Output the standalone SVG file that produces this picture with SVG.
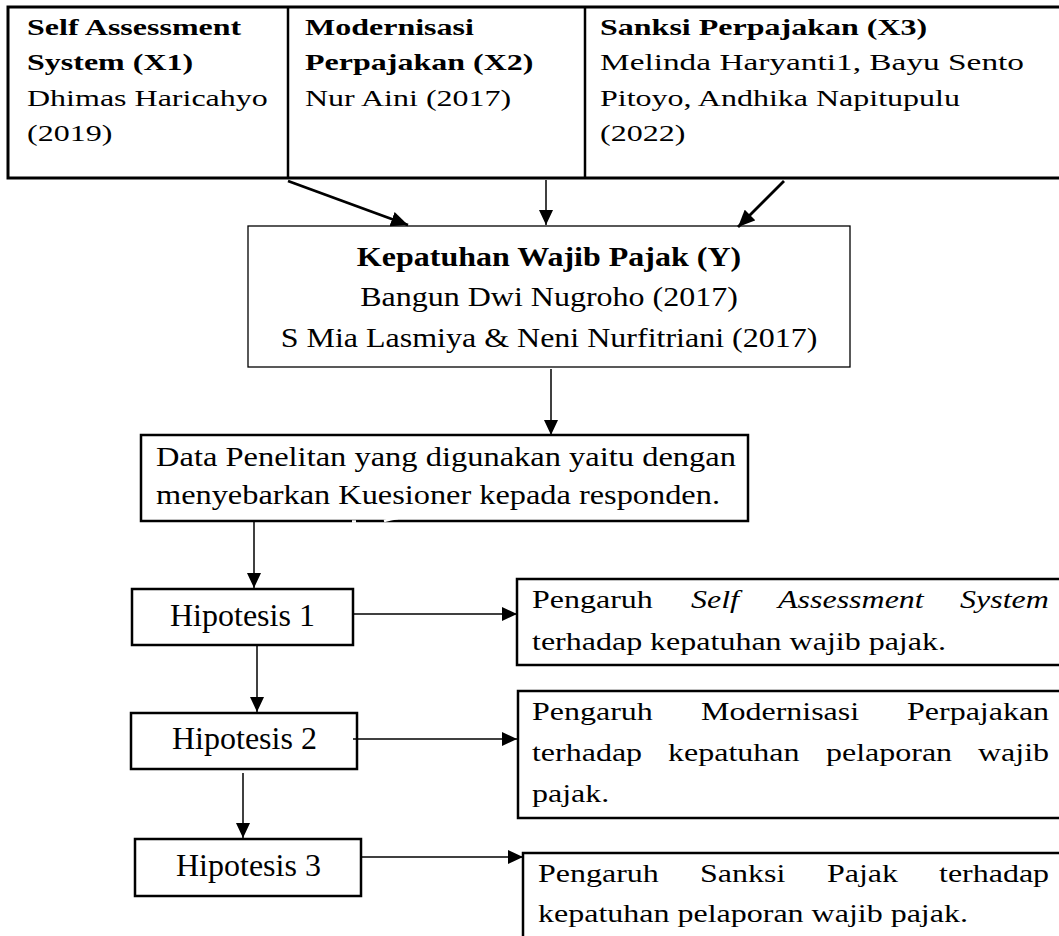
<svg xmlns="http://www.w3.org/2000/svg" width="1059" height="936" viewBox="0 0 1059 936">
<style>
.t{font-family:"Liberation Serif","Times New Roman",serif;font-size:32px;fill:#000}
.b{font-weight:bold}
.i{font-style:italic}
.box{fill:none;stroke:#000;stroke-width:2.5}
.thin{fill:none;stroke:#000;stroke-width:1.3}
.c{fill:none;stroke:#000;stroke-width:1.5}
.ct{fill:none;stroke:#000;stroke-width:2.8}
</style>
<defs>
<marker id="ah" viewBox="0 0 15 14" refX="15" refY="7" markerWidth="15" markerHeight="14" markerUnits="userSpaceOnUse" orient="auto"><path d="M0,0 L15,7 L0,14 z" fill="#000"/></marker>
<marker id="ahb" viewBox="0 0 17 15" refX="17" refY="7.5" markerWidth="17" markerHeight="15" markerUnits="userSpaceOnUse" orient="auto"><path d="M0,0 L17,7.5 L0,15 z" fill="#000"/></marker>
</defs>
<rect width="1059" height="936" fill="#fff"/>

<g id="table">
<rect x="8" y="7" width="1060" height="171" fill="none" stroke="#000" stroke-width="3"/>
<line x1="288" y1="7" x2="288" y2="178" stroke="#000" stroke-width="2.5"/>
<line x1="585" y1="7" x2="585" y2="178" stroke="#000" stroke-width="2.5"/>
</g>
<g id="x1">
<text class="t b" transform="translate(27,35) scale(1,0.71)">Self Assessment</text>
<text class="t b" transform="translate(27,70) scale(1,0.71)">System (X1)</text>
<text class="t" transform="translate(27,106) scale(1,0.71)">Dhimas Haricahyo</text>
<text class="t" transform="translate(27,141) scale(1,0.71)">(2019)</text>
</g>
<g id="x2">
<text class="t b" transform="translate(305,35) scale(1,0.71)">Modernisasi</text>
<text class="t b" transform="translate(305,70) scale(1,0.71)">Perpajakan (X2)</text>
<text class="t" transform="translate(305,106) scale(1,0.71)">Nur Aini (2017)</text>
</g>
<g id="x3">
<text class="t b" transform="translate(600,35) scale(1,0.71)">Sanksi Perpajakan (X3)</text>
<text class="t" transform="translate(600,70) scale(1,0.71)" textLength="424" lengthAdjust="spacingAndGlyphs">Melinda Haryanti1, Bayu Sento</text>
<text class="t" transform="translate(600,106) scale(1,0.71)">Pitoyo, Andhika Napitupulu</text>
<text class="t" transform="translate(600,141) scale(1,0.71)">(2022)</text>
</g>

<g id="y">
<rect class="thin" x="248" y="226" width="602" height="141"/>
<text class="t b" text-anchor="middle" transform="translate(549,266) scale(1,0.84)">Kepatuhan Wajib Pajak (Y)</text>
<text class="t" text-anchor="middle" transform="translate(549,306) scale(1,0.84)">Bangun Dwi Nugroho (2017)</text>
<text class="t" text-anchor="middle" transform="translate(549,347) scale(1,0.84)">S Mia Lasmiya &amp; Neni Nurfitriani (2017)</text>
</g>

<g id="data">
<rect class="box" x="141" y="435" width="607" height="86"/>
<text class="t" transform="translate(156,466) scale(1,0.85)" textLength="580" lengthAdjust="spacingAndGlyphs">Data Penelitan yang digunakan yaitu dengan</text>
<text class="t" transform="translate(156,504) scale(1,0.85)" textLength="564" lengthAdjust="spacingAndGlyphs">menyebarkan Kuesioner kepada responden.</text>
<path d="M352,521.5 h4 M384,521 q7,-2 14,-3" stroke="#fff" stroke-width="2.5" fill="none"/>
</g>

<g id="h1">
<rect class="box" x="132" y="589" width="221" height="56"/>
<text class="t" x="170" y="626">Hipotesis 1</text>
</g>
<g id="h2">
<rect class="box" x="131" y="713" width="226" height="56"/>
<text class="t" x="172" y="749">Hipotesis 2</text>
</g>
<g id="h3">
<rect class="box" x="135" y="839" width="226" height="57"/>
<text class="t" x="176" y="876">Hipotesis 3</text>
</g>

<g id="r1">
<rect class="box" x="517" y="579" width="550" height="86"/>
<text class="t" transform="translate(0,608) scale(1,0.8)"><tspan x="532">Pengaruh</tspan><tspan class="i" x="691">Self</tspan><tspan class="i" x="778">Assessment</tspan><tspan class="i" x="960">System</tspan></text>
<text class="t" transform="translate(532,650) scale(1,0.8)">terhadap kepatuhan wajib pajak.</text>
</g>
<g id="r2">
<rect class="box" x="518" y="691" width="550" height="127"/>
<text class="t" transform="translate(0,720) scale(1,0.8)"><tspan x="532">Pengaruh</tspan><tspan x="701">Modernisasi</tspan><tspan x="907">Perpajakan</tspan></text>
<text class="t" transform="translate(0,761) scale(1,0.8)"><tspan x="532">terhadap</tspan><tspan x="668">kepatuhan</tspan><tspan x="826">pelaporan</tspan><tspan x="978">wajib</tspan></text>
<text class="t" transform="translate(532,802) scale(1,0.8)">pajak.</text>
</g>
<g id="r3">
<path class="box" d="M1068,853 H523 V940"/>
<text class="t" transform="translate(0,882) scale(1,0.8)"><tspan x="538">Pengaruh</tspan><tspan x="700">Sanksi</tspan><tspan x="827">Pajak</tspan><tspan x="939">terhadap</tspan></text>
<text class="t" transform="translate(538,922) scale(1,0.8)">kepatuhan pelaporan wajib pajak.</text>
</g>

<g id="connectors">
<line class="ct" x1="288" y1="181" x2="408" y2="225" marker-end="url(#ahb)"/>
<line class="c" x1="546" y1="180" x2="546" y2="225" marker-end="url(#ah)"/>
<line class="ct" x1="784" y1="181" x2="738" y2="227" marker-end="url(#ahb)"/>
<line class="c" x1="551" y1="369" x2="551" y2="435" marker-end="url(#ah)"/>
<line class="c" x1="254" y1="522" x2="254" y2="588" marker-end="url(#ah)"/>
<line class="c" x1="354" y1="614" x2="517" y2="614" marker-end="url(#ah)"/>
<line class="c" x1="257" y1="646" x2="257" y2="712" marker-end="url(#ah)"/>
<line class="c" x1="353" y1="739" x2="517" y2="739" marker-end="url(#ah)"/>
<line class="c" x1="243" y1="773" x2="243" y2="838" marker-end="url(#ah)"/>
<line class="c" x1="362" y1="857" x2="523" y2="857" marker-end="url(#ah)"/>
</g>
</svg>
